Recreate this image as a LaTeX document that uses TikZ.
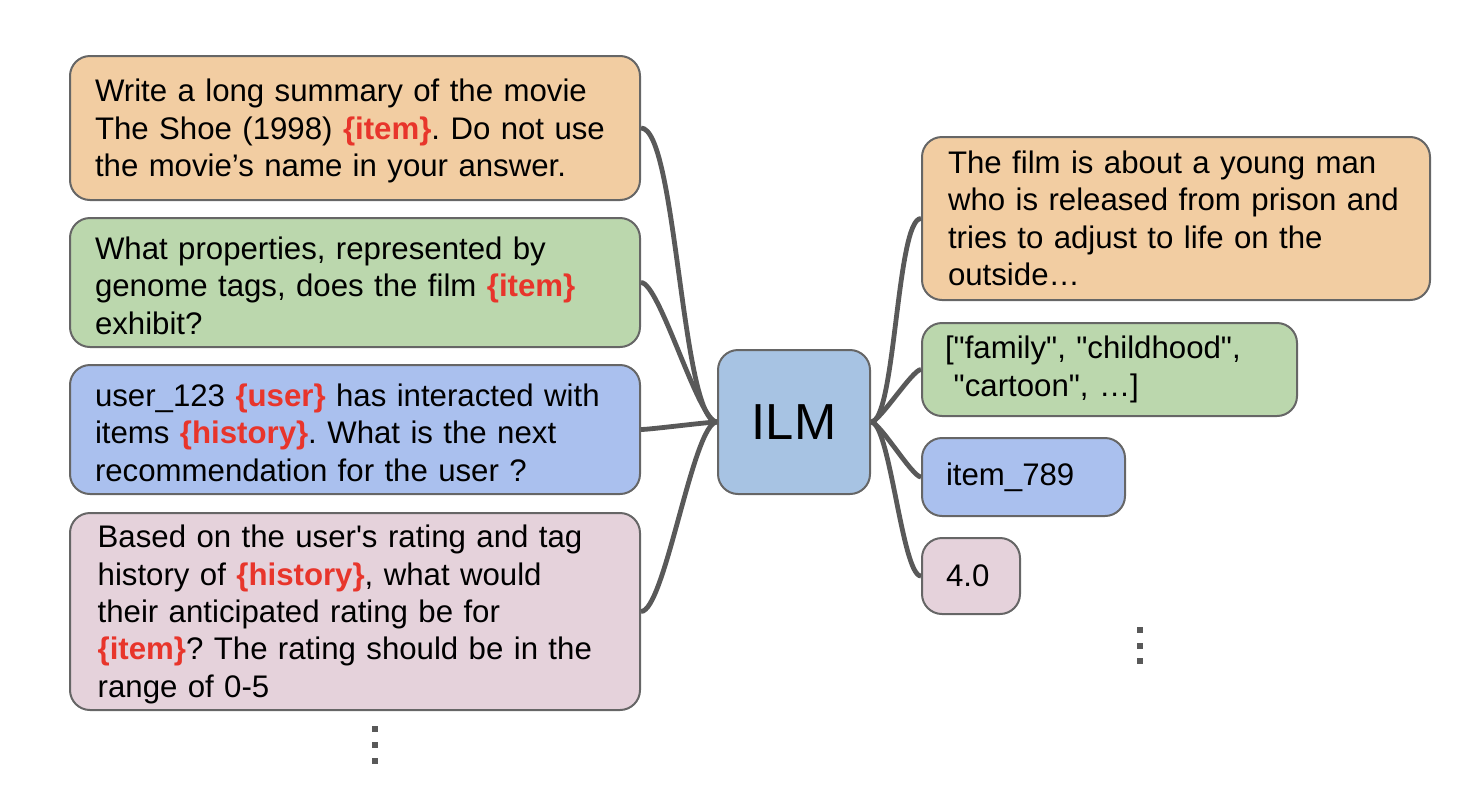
\documentclass[tikz,border=0pt]{standalone}
\usepackage{fontspec}
\setmainfont{Liberation Sans}
\usetikzlibrary{positioning}

\definecolor{boxorange}{HTML}{F2CDA2}
\definecolor{boxgreen}{HTML}{BBD7AD}
\definecolor{boxblue}{HTML}{AAC0EE}
\definecolor{boxpink}{HTML}{E5D2DB}
\definecolor{ilmblue}{HTML}{A7C3E3}
\definecolor{boxline}{HTML}{666666}
\definecolor{linkgray}{HTML}{595959}
\definecolor{slotred}{HTML}{E8352B}

\newcommand{\slot}[1]{\textbf{\textcolor{slotred}{\{#1\}}}}
\newcommand{\dq}{\textquotedbl}
\frenchspacing

\tikzset{
  box/.style={draw=boxline,line width=1.5pt,rounded corners=15pt,align=left,
    inner ysep=0pt,font=\fontsize{23.4}{28}\selectfont},
  prompt/.style={box,text width=390pt,inner xsep=18.75pt,
    execute at begin node={\rule{0pt}{21.5pt}}},
  link/.style={draw=linkgray,line width=3.6pt,looseness=0.3},
  vdot/.style={fill=linkgray,minimum size=4.5pt,inner sep=0pt},
}

\begin{document}
\begin{tikzpicture}[x=0.75pt,y=-0.75pt]
\useasboundingbox (0,0) rectangle (1480,800);

% prompts
\node[prompt,fill=boxorange,minimum height=108pt] (prompt1) at (355,128)
  {Write a long summary of the movie\\The Shoe (1998) \slot{item}. Do not use\\the movie’s name in your answer.};
\node[prompt,fill=boxgreen,minimum height=96.75pt] (prompt2) at (355,282.5)
  {What properties, represented by\\genome tags, does the film \slot{item}\\exhibit?};
\node[prompt,fill=boxblue,minimum height=96.75pt] (prompt3) at (355,429.5)
  {user\_123 \slot{user} has interacted with\\items \slot{history}. What is the next\\recommendation for the user ?};
\node[prompt,fill=boxpink,minimum height=147.75pt] (prompt4) at (355,611.5)
  {\hspace*{2pt}Based on the user\textquotesingle s rating and tag\\\hspace*{2pt}history of \slot{history}, what would\\\hspace*{2pt}their anticipated rating be for\\\hspace*{2pt}\slot{item}? The rating should be in the\\\hspace*{2pt}range of 0-5};

% model
\node[box,fill=ilmblue,align=center,minimum width=114pt,minimum height=108pt,
  font=\fontsize{38}{40}\selectfont] (ilm) at (794,422) {ILM};

% answers
\node[box,fill=boxorange,text width=342pt,inner xsep=19.5pt,minimum height=122.25pt] (answer1) at (1176,218.5)
  {The film is about a young man\\who is released from prison and\\tries to adjust to life on the\\outside…};
\node[box,fill=boxgreen,text width=246.75pt,inner xsep=17.25pt,minimum height=69.75pt] (answer2) at (1109.5,369.5)
  {[\dq family\dq, \dq childhood\dq,\\\hspace*{0.28em}\dq cartoon\dq, …]};
\node[box,fill=boxblue,text width=116.25pt,inner xsep=18pt,minimum height=58.5pt] (answer3) at (1023.5,477)
  {item\_789};
\node[box,fill=boxpink,text width=37.5pt,inner xsep=18pt,minimum height=57pt] (answer4) at (971,576)
  {4.0};

% connectors
\draw[link] (ilm.west) to[out=180,in=0] (prompt1.east);
\draw[link] (ilm.west) to[out=180,in=0] (prompt2.east);
\draw[link] (ilm.west) to[out=180,in=0] (prompt3.east);
\draw[link] (ilm.west) to[out=180,in=0] (prompt4.east);
\draw[link] (ilm.east) to[out=0,in=180] (answer1.west);
\draw[link] (ilm.east) to[out=0,in=180] (answer2.west);
\draw[link] (ilm.east) to[out=0,in=180] (answer3.west);
\draw[link] (ilm.east) to[out=0,in=180] (answer4.west);

% more
\foreach \i/\y in {1/729,2/745,3/761}
  \node[vdot] (moreL\i) at (375,\y) {};
\foreach \i/\y in {1/630,2/646,3/661}
  \node[vdot] (moreR\i) at (1140,\y) {};

\end{tikzpicture}
\end{document}
